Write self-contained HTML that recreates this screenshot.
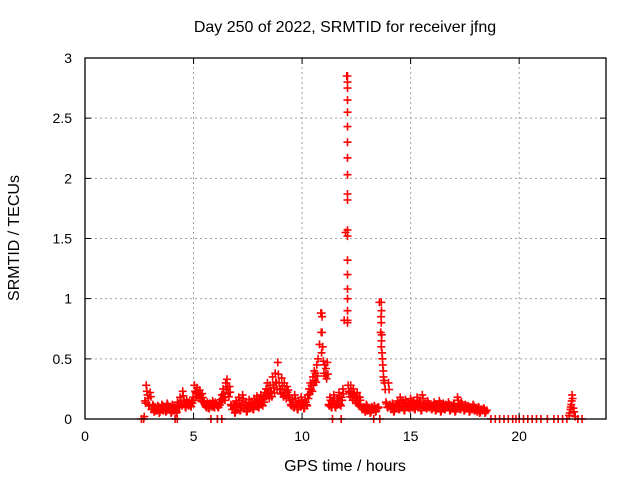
<!DOCTYPE html>
<html><head><meta charset="utf-8"><style>
body{margin:0;background:#fff}
svg{display:block;font-family:"Liberation Sans","DejaVu Sans",sans-serif}
</style></head><body>
<svg id="chart" width="640" height="480" viewBox="0 0 640 480" xmlns="http://www.w3.org/2000/svg">
<rect width="640" height="480" fill="#fff"/>
<g id="grid"></g>
<g id="marks"></g>
<rect x="85" y="58" width="521" height="361" fill="none" stroke="#000" stroke-width="1.3"/>
<g id="axes"></g>
<text x="345" y="32" text-anchor="middle" font-size="16">Day 250 of 2022, SRMTID for receiver jfng</text>
<text x="345" y="471" text-anchor="middle" font-size="16">GPS time / hours</text>
<text transform="translate(19,238) rotate(-90)" text-anchor="middle" font-size="16">SRMTID / TECUs</text>
</svg>
<script>
const xTicks=[0,5,10,15,20];
const yTicks=[0,0.5,1,1.5,2,2.5,3];
const yTickLabels=["0","0.5","1","1.5","2","2.5","3"];
const mainStart=2.7, mainStep=0.06;
const mainVals=[0.0,0.15,0.28,0.2,0.12,0.22,
0.08,0.12,0.06,0.1,0.07,0.11,0.05,0.09,0.12,0.07,0.1,0.06,0.13,0.08,0.1,0.05,0.12,0.07,0.09,
0.05,0.14,0.1,0.18,0.12,0.23,0.15,0.1,0.16,0.12,0.14,0.11,0.15,
0.18,0.28,0.22,0.26,0.2,0.24,0.17,0.21,0.15,
0.12,0.1,0.14,0.09,0.13,0.11,0.15,0.1,0.14,0.12,0.1,0.13,
0.16,0.2,0.25,0.18,0.3,0.33,0.22,0.27,0.12,
0.08,0.12,0.05,0.15,0.1,0.18,0.07,0.12,0.2,0.09,0.14,0.06,0.11,0.16,0.1,0.13,0.08,0.17,0.12,0.19,0.1,0.15,0.2,0.12,0.16,0.22,
0.25,0.3,0.2,0.28,0.22,0.35,0.26,0.38,0.3,0.47,
0.3,0.25,0.34,0.22,0.3,0.2,0.27,0.24,0.18,
0.12,0.16,0.1,0.2,0.14,0.08,0.15,0.11,0.18,0.13,0.09,0.16,0.12,
0.2,0.25,0.3,0.28,0.35,0.4,0.38,0.45,0.5,0.62,
0.88,0.72,0.48,0.45,0.42,0.47,
0.12,0.18,0.1,0.15,0.2,0.1,0.13,0.17,0.22,0.12,0.18,0.25,
0.82,1.55,2.85,0.28,
0.22,0.28,0.18,0.25,0.2,0.15,0.22,0.12,0.18,0.1,
0.08,0.1,0.06,0.12,0.07,0.09,0.05,0.1,0.08,0.11,0.06,0.09,0.1,
0.97,0.72,0.55,0.4,0.3,
0.14,0.1,0.3,0.12,0.08,0.13,0.06,0.1,
0.12,0.15,0.08,0.18,0.1,0.14,0.07,0.16,0.11,0.13,0.09,0.17,0.1,0.15,0.08,0.12,0.18,0.1,0.14,0.07,0.2,0.11,0.13,0.09,0.15,0.1,0.12,0.08,
0.1,0.14,0.07,0.12,0.09,0.15,0.06,0.11,0.13,0.08,0.12,0.1,0.14,0.07,0.11,0.09,0.13,0.06,0.1,0.18,0.12,0.08,0.14,0.1,0.07,0.12,0.09,0.11,0.06,0.1,0.08,0.12,0.07,0.09,0.06,0.1,0.05,0.08,0.07,0.09,0.05,0.07];
const extraTimes=[12.09,12.09,12.09,12.09,12.09,12.09,12.09,12.09,12.09,12.09,12.09,12.09,12.09,12.09,12.09,12.09,12.09,12.09,12.09,12.09,
10.9,10.92,10.88,10.95,10.9,
13.65,13.66,13.64,13.65,13.67,13.66,13.65,13.68,13.7,13.72,13.74,13.75,13.76,
22.3,22.33,22.36,22.38,22.4,22.42,22.44,22.46,22.5,22.53,22.58,
2.6,4.15,4.25,5.8,6.1,6.3,11.4,11.8,13.3,13.58,18.7,18.9,19.1,19.3,19.5,19.7,19.85,20.0,20.2,20.4,20.6,20.8,21.0,21.3,21.6,21.8,22.0,22.2,22.7,22.9];
const extraVals=[0.8,0.82,0.9,1.0,1.08,1.2,1.32,1.52,1.57,1.82,1.87,2.03,2.17,2.3,2.43,2.55,2.65,2.75,2.8,2.85,
0.88,0.85,0.72,0.6,0.55,
0.97,0.9,0.85,0.8,0.7,0.65,0.6,0.55,0.5,0.45,0.4,0.35,0.32,
0.03,0.05,0.08,0.1,0.12,0.15,0.2,0.17,0.09,0.06,0.02,
0,0,0,0,0,0,0,0,0,0,0,0,0,0,0,0,0,0,0,0,0,0,0,0,0,0,0,0,0,0];
const X0=85,X1=606,Y0=419,Y1=58,XMAX=24,YMAX=3;
const xs=v=>X0+(X1-X0)*v/XMAX;
const ys=v=>Y0-(Y0-Y1)*v/YMAX;
const NS="http://www.w3.org/2000/svg";
const grid=document.getElementById('grid'),axes=document.getElementById('axes'),marks=document.getElementById('marks');
function mk(tag,attrs,parent){const e=document.createElementNS(NS,tag);for(const k in attrs)e.setAttribute(k,attrs[k]);parent.appendChild(e);return e;}
xTicks.forEach(t=>{const x=xs(t);
 if(t>0){const g=mk('line',{x1:x,x2:x,y1:Y0,y2:Y1,stroke:'#a0a0a0','stroke-dasharray':'2,3'},grid);
 
 }
 const tk=mk('path',{d:`M${x},${Y0}v-6M${x},${Y1}v6`,stroke:'#000'},axes);
 
 
 const l=mk('text',{x:x,y:441,'text-anchor':'middle','font-size':14},axes);l.textContent=t;
 
 
});
yTicks.forEach((t,i)=>{const y=ys(t);
 if(t>0&&t<YMAX){const g=mk('line',{x1:X0,x2:X1,y1:y,y2:y,stroke:'#a0a0a0','stroke-dasharray':'2,3'},grid);
 
 }
 const tk=mk('path',{d:`M${X0},${y}h6M${X1},${y}h-6`,stroke:'#000'},axes);
 
 
 const l=mk('text',{x:72,y:y+5,'text-anchor':'end','font-size':14},axes);l.textContent=yTickLabels[i];
 
 
});
let d='';
const plus=(t,v)=>{const x=xs(t),y=ys(v);d+=`M${(x-4).toFixed(1)},${y.toFixed(1)}h8M${x.toFixed(1)},${(y-4).toFixed(1)}v8`;};
mainVals.forEach((v,i)=>{const t=mainStart+mainStep*i;plus(t,v);
 if(v<0.5){plus(t+0.03,v*0.75+0.02);}});
extraVals.forEach((v,i)=>plus(extraTimes[i],v));
const p=mk('path',{d:d,stroke:'#ff0000','stroke-width':1.6,fill:'none'},marks);


</script>
</body></html>
